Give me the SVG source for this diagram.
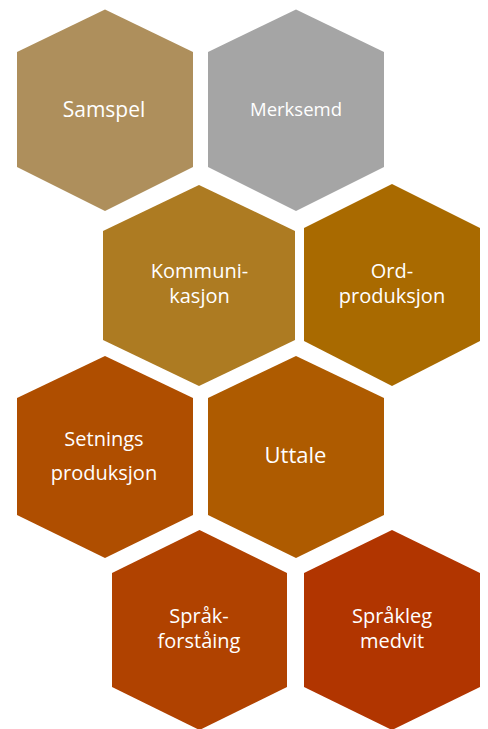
<svg xmlns="http://www.w3.org/2000/svg" width="488" height="729" viewBox="0 0 488 729">
<style>
text{font-family:"Open Sans","Noto Sans","DejaVu Sans",sans-serif;font-size:20px;fill:#FFFFFF;text-anchor:middle}
</style>
<rect width="488" height="729" fill="#FFFFFF"/>
<g id="samspel">
<polygon points="105,9.5 193,52 193,167 105,211 17,167 17,52" fill="#AE8F5C"/>
<text x="104" y="117" style="font-size:21px">Samspel</text>
</g>
<g id="merksemd">
<polygon points="296,9.5 384,52 384,167 296,211 208,167 208,52" fill="#A5A5A5"/>
<text x="296" y="116" style="font-size:18.5px">Merksemd</text>
</g>
<g id="kommunikasjon">
<polygon points="199,185 295,231 295,340 199,386 103,340 103,231" fill="#AD7B22"/>
<text x="199.5" y="278">Kommuni-</text>
<text x="199.5" y="303">kasjon</text>
</g>
<g id="ordproduksjon">
<polygon points="392,184 480,228 480,341 392,386 304,341 304,228" fill="#A96A00"/>
<text x="392" y="278">Ord-</text>
<text x="392" y="303">produksjon</text>
</g>
<g id="setningsproduksjon">
<polygon points="105,356 193,398 193,515 105,558 17,515 17,398" fill="#AF4E00"/>
<text x="104" y="446">Setnings</text>
<text x="104" y="480">produksjon</text>
</g>
<g id="uttale">
<polygon points="296,356 384,398 384,515 296,558 208,515 208,398" fill="#AE5B00"/>
<text x="295.5" y="463" style="font-size:22px">Uttale</text>
</g>
<g id="sprakforstaing">
<polygon points="199.5,530 287,573 287,687 199.5,730 112,687 112,573" fill="#B04200"/>
<text x="199" y="623">Språk-</text>
<text x="199" y="648">forståing</text>
</g>
<g id="spraklegmedvit">
<polygon points="392,530 480,573 480,687 392,730 304,687 304,573" fill="#B13500"/>
<text x="392" y="623">Språkleg</text>
<text x="392" y="648">medvit</text>
</g>
<g id="connectors"></g>
</svg>
